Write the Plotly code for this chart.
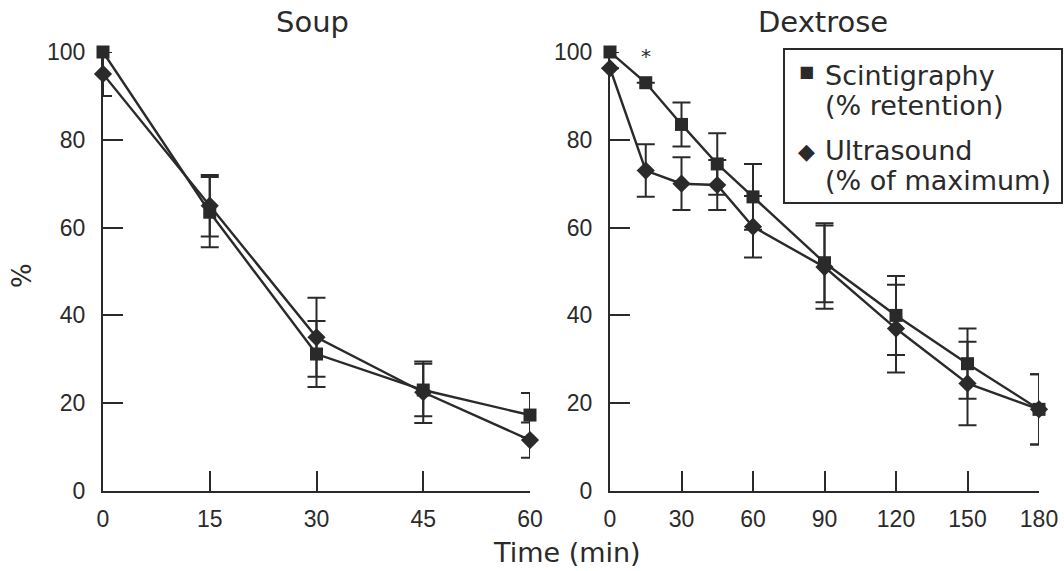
import plotly.graph_objects as go

# Gastric emptying curves: soup meal (0-60 min) and dextrose meal (0-180 min)
soup_time = [0, 15, 30, 45, 60]
soup_scint = [100, 63.5, 31.2, 23, 17.3]
soup_scint_err = [0, 8, 7.5, 6, 5]
soup_us = [95, 65, 35, 22.5, 11.6]
soup_us_err = [5, 7, 9, 7, 4]

dex_time = [0, 15, 30, 45, 60, 90, 120, 150, 180]
dex_scint = [100, 93, 83.5, 74.5, 67, 52, 40, 29, 18.6]
dex_scint_err = [0, 0, 5, 7, 7.5, 9, 9, 8, 8]
dex_us = [96.3, 73, 70, 69.7, 60.2, 51, 37, 24.5, 18.6]
dex_us_err = [0, 6, 6, 5.7, 7, 9.5, 10, 9.5, 8]

soup_xticks = [0, 15, 30, 45, 60]
dex_xticks = [0, 30, 60, 90, 120, 150, 180]
y_ticks = [0, 20, 40, 60, 80, 100]

INK = "#2a2a2a"
TEXT_FONT = "DejaVu Sans"
TICK_FONT = "Liberation Sans, Arial, sans-serif"
W, H = 1064, 571


def px_x(p):
    return p / W


def px_y(p):
    return (H - p) / H


def series(x, y, err, symbol, size, xa, ya):
    return go.Scatter(
        x=x, y=y, mode="lines+markers", xaxis=xa, yaxis=ya,
        line=dict(color=INK, width=2.4),
        marker=dict(symbol=symbol, size=size, color=INK),
        error_y=dict(type="data", array=err, visible=True,
                     color=INK, thickness=2, width=9),
        cliponaxis=False, showlegend=False, hoverinfo="skip",
    )


fig = go.Figure()
fig.add_trace(series(soup_time, soup_scint, soup_scint_err, "square", 13, "x", "y"))
fig.add_trace(series(soup_time, soup_us, soup_us_err, "diamond", 14, "x", "y"))
fig.add_trace(series(dex_time, dex_scint, dex_scint_err, "square", 13, "x2", "y2"))
fig.add_trace(series(dex_time, dex_us, dex_us_err, "diamond", 14, "x2", "y2"))

axis_common = dict(
    showline=True, linecolor=INK, linewidth=2,
    ticks="inside", ticklen=20, tickwidth=2, tickcolor=INK,
    showgrid=False, zeroline=False, fixedrange=True, automargin=False,
    tickfont=dict(family=TICK_FONT, size=23, color=INK),
)

y_domain = [px_y(491), px_y(52)]

fig.update_layout(
    width=W, height=H,
    margin=dict(l=0, r=0, t=0, b=0, pad=0),
    paper_bgcolor="white", plot_bgcolor="white",
    xaxis=dict(domain=[px_x(103), px_x(530)], range=[0, 60], tickvals=soup_xticks,
               anchor="y", ticklabelstandoff=6, **axis_common),
    yaxis=dict(domain=y_domain, range=[0, 100], tickvals=y_ticks,
               anchor="x", ticklabelstandoff=11, **axis_common),
    xaxis2=dict(domain=[px_x(610), px_x(1039)], range=[0, 180], tickvals=dex_xticks,
                anchor="y2", ticklabelstandoff=6, **axis_common),
    yaxis2=dict(domain=y_domain, range=[0, 100], tickvals=y_ticks,
                anchor="x2", ticklabelstandoff=11, **axis_common),
)

annotations = [
    dict(text="Soup", x=px_x(312), y=px_y(22), size=29),
    dict(text="Dextrose", x=px_x(823), y=px_y(22), size=29),
    dict(text="Time (min)", x=px_x(567), y=px_y(552), size=27),
]
for a in annotations:
    fig.add_annotation(text=a["text"], x=a["x"], y=a["y"], xref="paper", yref="paper",
                       xanchor="center", yanchor="middle", showarrow=False,
                       font=dict(family=TEXT_FONT, size=a["size"], color=INK))

# y-axis label
fig.add_annotation(text="%", x=px_x(22), y=px_y(276), xref="paper", yref="paper",
                   textangle=-90, showarrow=False, xanchor="center", yanchor="middle",
                   font=dict(family=TEXT_FONT, size=26, color=INK))

# significance marker on the dextrose curve at 15 min
fig.add_annotation(text="*", x=15, y=100, xref="x2", yref="y2", showarrow=False,
                   xanchor="center", yanchor="middle", yshift=-4,
                   font=dict(family=TEXT_FONT, size=20, color=INK))

# key box
fig.add_shape(type="rect", xref="paper", yref="paper",
              x0=px_x(784), x1=px_x(1062), y0=px_y(203), y1=px_y(49),
              line=dict(color=INK, width=2), fillcolor="white", layer="above")

key_lines = [
    ("Scintigraphy", 75),
    ("(% retention)", 105),
    ("Ultrasound", 150),
    ("(% of maximum)", 180),
]
for txt, yp in key_lines:
    fig.add_annotation(text=txt, x=px_x(823), y=px_y(yp), xref="paper", yref="paper",
                       xanchor="left", yanchor="middle", showarrow=False,
                       font=dict(family=TEXT_FONT, size=27, color=INK))

key_symbols = [("■", 72, 16), ("◆", 152, 22)]
for sym, yp, sz in key_symbols:
    fig.add_annotation(text=sym, x=px_x(806), y=px_y(yp), xref="paper", yref="paper",
                       xanchor="center", yanchor="middle", showarrow=False,
                       font=dict(family=TEXT_FONT, size=sz, color=INK))

fig.write_html("out.html", config={"displayModeBar": False})
